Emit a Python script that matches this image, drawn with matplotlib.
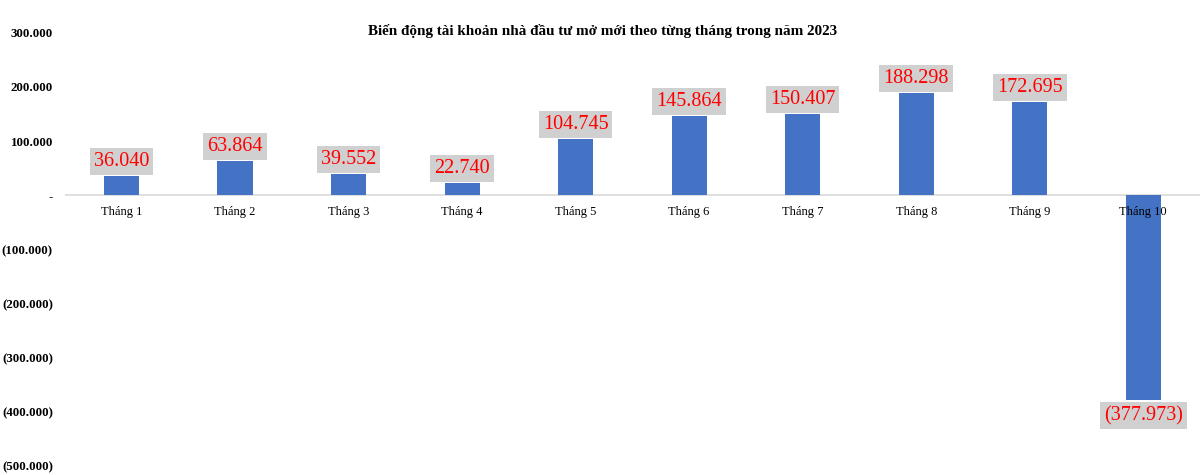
import matplotlib.pyplot as plt
from matplotlib.ticker import FuncFormatter

plt.rcParams['font.family'] = ['Liberation Serif', 'DejaVu Serif']

thang = ["Tháng 1", "Tháng 2", "Tháng 3", "Tháng 4", "Tháng 5",
         "Tháng 6", "Tháng 7", "Tháng 8", "Tháng 9", "Tháng 10"]
tai_khoan = [36040, 63864, 39552, 22740, 104745,
             145864, 150407, 188298, 172695, -377973]
tieu_de = "Biến động tài khoản nhà đầu tư mở mới theo từng tháng trong năm 2023"


def dinh_dang(v):
    # kieu so Excel: dau cham ngan cach hang nghin, so am trong ngoac
    if v == 0:
        return "-"
    s = f"{abs(v):,.0f}".replace(",", ".")
    return f"({s})" if v < 0 else s


fig = plt.figure(figsize=(12, 4.75), dpi=100)
ax = fig.add_axes([0.054, 0.019, 0.946, 0.912])

x = list(range(len(thang)))
ax.bar(x, tai_khoan, width=0.31, color="#4472C4", zorder=2)

for xi, v in zip(x, tai_khoan):
    duong = v >= 0
    ax.annotate(dinh_dang(v), (xi, v), xytext=(0, 3.5 if duong else -4.5),
                textcoords="offset points", ha="center",
                va="bottom" if duong else "top", fontsize=14.5, color="#FF0000",
                bbox=dict(boxstyle="square,pad=0.2", fc="#D0D0D0", ec="none"),
                zorder=4)

ax.axhline(0, color="#D9D9D9", lw=1.2, zorder=1)

ax.set_xlim(-0.5, len(thang) - 0.5)
ax.set_ylim(-500000, 300000)
ax.set_yticks(range(-500000, 300001, 100000))
ax.yaxis.set_major_formatter(FuncFormatter(lambda v, p: dinh_dang(v)))
for t in ax.get_yticklabels():
    t.set_fontweight("bold")
ax.tick_params(axis="y", length=0, labelsize=9.3, pad=8.5)

ax.set_xticks([])
for xi, ten in zip(x, thang):
    ax.text(xi, -31000, ten, ha="center", va="center", fontsize=9, zorder=5)

for s in ax.spines.values():
    s.set_visible(False)

fig.text(0.502, 0.935, tieu_de, ha="center", va="center", fontsize=10.9, fontweight="bold")

fig.savefig("out.png", dpi=100)
